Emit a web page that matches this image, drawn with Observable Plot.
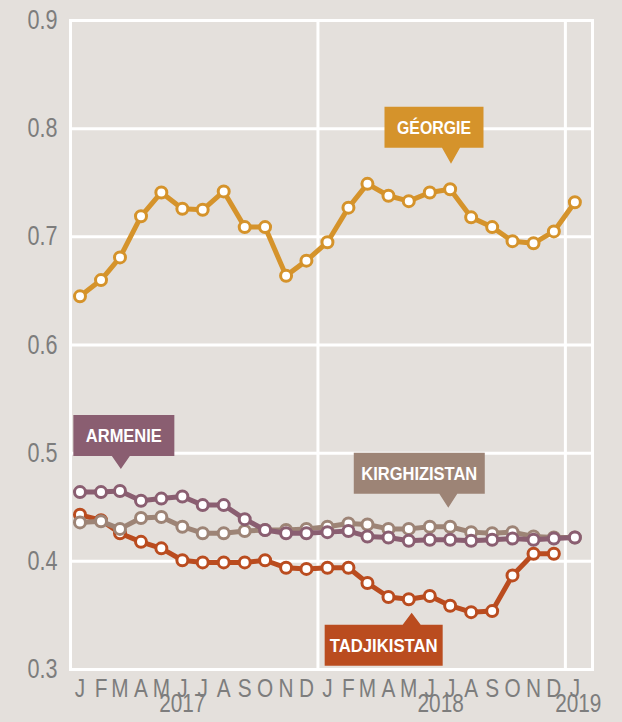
<!DOCTYPE html>
<html><head><meta charset="utf-8">
<script src="https://cdn.jsdelivr.net/npm/d3@7"></script>
<script src="https://cdn.jsdelivr.net/npm/@observablehq/plot@0.6"></script>
<style>
html,body{margin:0;padding:0;background:#e4e0dc;}
#chart svg{display:block;}
</style></head><body><div id="chart"></div>
<script>
// ---- data ----
const months = ["2017-01","2017-02","2017-03","2017-04","2017-05","2017-06","2017-07","2017-08","2017-09","2017-10","2017-11","2017-12",
                "2018-01","2018-02","2018-03","2018-04","2018-05","2018-06","2018-07","2018-08","2018-09","2018-10","2018-11","2018-12",
                "2019-01"];
const monthLetters = ["J","F","M","A","M","J","J","A","S","O","N","D"];
const yearLabels = ["2017","2018","2019"];
const yearLabelDates = ["2017-06-15","2018-07-01","2019-01-20"];
const yearBoundaries = ["2018-01-01","2019-01-01"];
const yTicks = [0.3,0.4,0.5,0.6,0.7,0.8,0.9];
const seriesNames = ["GÉORGIE","TADJIKISTAN","KIRGHIZISTAN","ARMENIE"];
const georgia    = [0.645,0.660,0.681,0.719,0.741,0.726,0.725,0.742,0.709,0.709,0.664,0.678,0.695,0.727,0.749,0.738,0.733,0.741,0.744,0.718,0.709,0.696,0.694,0.705,0.732];
const tajikistan = [0.443,0.438,0.426,0.418,0.412,0.401,0.399,0.399,0.399,0.401,0.394,0.393,0.394,0.394,0.380,0.367,0.365,0.368,0.359,0.353,0.354,0.387,0.407,0.407,null];
const kyrgyzstan = [0.436,0.437,0.430,0.440,0.441,0.432,0.426,0.426,0.428,0.429,0.429,0.430,0.432,0.435,0.434,0.430,0.430,0.432,0.432,0.427,0.426,0.427,0.423,0.422,0.422];
const armenia    = [0.464,0.464,0.465,0.456,0.458,0.460,0.452,0.452,0.439,0.429,0.426,0.426,0.427,0.428,0.423,0.422,0.419,0.420,0.420,0.419,0.420,0.421,0.420,0.421,0.422];
// annotation anchors (where the pointer of each label box points)
const labelNames = ["GÉORGIE","ARMENIE","KIRGHIZISTAN","TADJIKISTAN"];
const labelTipDates = ["2018-07-17","2017-03-17","2018-07-13","2018-05-20"];
const labelTipValues = [0.767,0.485,0.449,0.352];

// ---- styling ----
const FONT = "'Liberation Sans','Arial',sans-serif";
const CONDENSE = 0.8; // horizontal compression imitating a condensed typeface
const colors = {"GÉORGIE":"#d5932b","TADJIKISTAN":"#ba4c1f","KIRGHIZISTAN":"#9d8476","ARMENIE":"#8a5e71"};
const labelStyle = {
  "GÉORGIE":     {dx:-17, w:99,  side:"above", arrow:16, tw:74},
  "ARMENIE":     {dx:3,   w:101, side:"above", arrow:13, tw:76},
  "KIRGHIZISTAN":{dx:-29, w:131, side:"above", arrow:14, tw:116},
  "TADJIKISTAN": {dx:-28, w:118, side:"below", arrow:12, tw:108}
};

const parse = s => new Date(s.length === 7 ? s + "-15T00:00:00Z" : s + "T00:00:00Z");
const dates = months.map(parse);
const valuesBySeries = {"GÉORGIE":georgia,"TADJIKISTAN":tajikistan,"KIRGHIZISTAN":kyrgyzstan,"ARMENIE":armenia};
const rows = [];
for (const name of seriesNames) {
  valuesBySeries[name].forEach((v, i) => { if (v != null) rows.push({series:name, date:dates[i], value:v}); });
}

const seriesMarks = seriesNames.flatMap(name => {
  const data = rows.filter(r => r.series === name);
  return [
    Plot.line(data, {x:"date", y:"value", stroke:colors[name], strokeWidth:5, strokeLinejoin:"round"}),
    Plot.dot(data, {x:"date", y:"value", r:5.5, fill:"white", stroke:colors[name], strokeWidth:3})
  ];
});

const chart = Plot.plot({
  width: 622, height: 722,
  marginLeft: 70, marginRight: 30, marginTop: 20, marginBottom: 53,
  style: {background:"#e4e0dc", fontFamily:FONT, color:"#7d7d7d", overflow:"visible"},
  x: {type:"utc", domain:[parse("2017-01-01"), parse("2019-02-10")]},
  y: {domain:[0.3,0.9]},
  marks: [
    Plot.ruleY(yTicks, {stroke:"white", strokeWidth:3}),
    Plot.ruleX(yearBoundaries.map(parse), {stroke:"white", strokeWidth:3}),
    Plot.frame({stroke:"white", strokeWidth:3}),
    Plot.axisY(yTicks, {tickSize:0, tickPadding:13, fontSize:27, fill:"#7d7d7d", tickFormat: d => d.toFixed(1), label:null}),
    Plot.axisX(dates, {tickSize:0, tickPadding:9, fontSize:26, fill:"#7d7d7d", tickFormat: d => monthLetters[d.getUTCMonth()], label:null}),
    Plot.text(yearLabels, {x:(d,i) => parse(yearLabelDates[i]), text:d => d, frameAnchor:"bottom", dy:42, fontSize:26, fill:"#7d7d7d"}),
    ...seriesMarks
  ]
});
document.getElementById("chart").appendChild(chart);

const svg = d3.select(chart);
// condense the axis & year texts
svg.selectAll("text").each(function() {
  const len = this.getComputedTextLength();
  if (len > 0) {
    this.setAttribute("textLength", (len * CONDENSE).toFixed(2));
    this.setAttribute("lengthAdjust", "spacingAndGlyphs");
  }
});

// ---- label boxes with pointers, positioned through the chart's scales ----
const xs = chart.scale("x"), ys = chart.scale("y");
const g = svg.append("g").attr("font-family", FONT);
labelNames.forEach((name, i) => {
  const st = labelStyle[name];
  const tx = xs.apply(parse(labelTipDates[i]));
  const ty = ys.apply(labelTipValues[i]);
  const cx = tx + st.dx, h = 41, hw = 9;
  let top, path;
  if (st.side === "above") {
    const bottom = ty - st.arrow; top = bottom - h;
    path = `M${cx - st.w/2},${top}H${cx + st.w/2}V${bottom}H${tx + hw}L${tx},${ty}L${tx - hw},${bottom}H${cx - st.w/2}Z`;
  } else {
    top = ty + st.arrow; const bottom = top + h;
    path = `M${cx - st.w/2},${top}H${tx - hw}L${tx},${ty}L${tx + hw},${top}H${cx + st.w/2}V${bottom}H${cx - st.w/2}Z`;
  }
  g.append("path").attr("d", path).attr("fill", colors[name]);
  g.append("text").attr("x", cx).attr("y", top + h/2).attr("dy", "0.36em")
    .attr("text-anchor", "middle").attr("fill", "white").attr("font-weight", "bold")
    .attr("font-size", 19).attr("textLength", st.tw).attr("lengthAdjust", "spacingAndGlyphs")
    .text(name);
});
</script>
</body></html>
